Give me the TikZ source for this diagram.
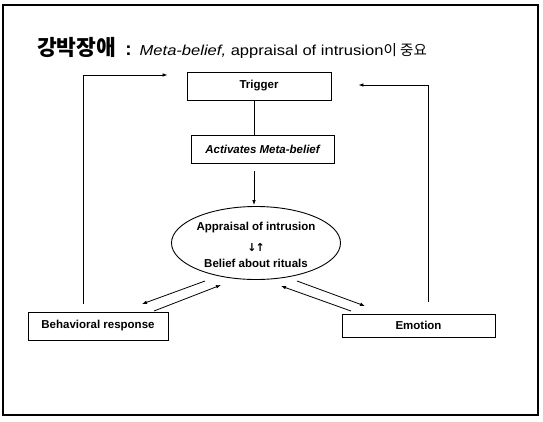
\documentclass[tikz,border=0pt]{standalone}
\usepackage{fontspec}
\setmainfont{Liberation Sans}
\newfontfamily\kr{Noto Sans CJK KR}
\newfontfamily\symfont{DejaVu Sans}
\newfontfamily\titlefont[FakeStretch=1.15]{Liberation Sans}
\usetikzlibrary{arrows.meta,shapes.geometric}
\begin{document}
\begin{tikzpicture}[x=1pt,y=-1pt,
  lbl/.style={font=\fontsize{11.5}{13}\selectfont\bfseries},
  box/.style={draw,line width=0.9pt,inner sep=0pt,lbl},
  oval/.style={draw,ellipse,line width=0.9pt,inner sep=0pt,
    minimum width=169pt,minimum height=73pt},
  link/.style={line width=0.8pt},
  arr/.style={link,-{Latex[length=5pt,width=3.6pt]}}]
\useasboundingbox (0,0) rectangle (543,421);
% frame
\draw[line width=1.8pt] (3,5) rectangle (538,415);

% heading
\node[anchor=base west,inner sep=0pt] (title) at (37,55)
  {{\kr\bfseries\fontsize{21.5}{24}\selectfont 강박장애}\hspace{9pt}{\fontsize{19}{20}\selectfont\bfseries :}\hspace{8pt}{\titlefont\fontsize{14.4}{16}\selectfont\itshape Meta-belief, \upshape appraisal of intrusion}{\kr\fontsize{14.5}{16}\selectfont 이 중요}};

% boxes
\node[box,minimum width=144pt,minimum height=28pt] (trig) at (259,86) {Trigger};
\node[box,minimum width=143pt,minimum height=28pt,font=\fontsize{11.5}{13}\selectfont\bfseries\itshape] (act) at (262.5,149) {Activates Meta-belief};
\node[oval] (ell) at (256,243) {};
\node[lbl] (ap) at (256,228) {Appraisal of intrusion};
\node[font=\symfont\fontsize{11}{12}\selectfont\bfseries,inner sep=0pt] (ud) at (256,247) {↓\kern-1pt↑};
\node[lbl] (br) at (256,263) {Belief about rituals};
\node[box,minimum width=140pt,minimum height=28pt] (beh) at (98,326) {Behavioral response};
\node[box,minimum width=153pt,minimum height=23pt] (emo) at (418.5,325.5) {Emotion};

% main chain
\draw[link] (trig.south -| 254,0) -- (act.north -| 254,0);
\draw[arr,shorten <=8pt,shorten >=1pt] (act.south -| 254,0) -- (ell.north -| 254,0);

% feedback loops to the trigger
\coordinate (lb) at (83,304);
\coordinate (rb) at (428,302);
\draw[arr,shorten >=19pt] (lb) |- ([yshift=11pt]trig.west);
\draw[arr,shorten >=27pt] (rb) |- ([yshift=1pt]trig.east);

% exchanges between the oval and the two outcomes
\coordinate (a1) at (205,281); \coordinate (a2) at (142,304);
\coordinate (b1) at (154,311); \coordinate (b2) at (221,285);
\coordinate (c1) at (351,311); \coordinate (c2) at (281,286);
\coordinate (d1) at (297,281); \coordinate (d2) at (365,306);
\draw[arr] (a1) -- (a2);
\draw[arr] (b1) -- (b2);
\draw[arr] (c1) -- (c2);
\draw[arr] (d1) -- (d2);
\end{tikzpicture}
\end{document}
